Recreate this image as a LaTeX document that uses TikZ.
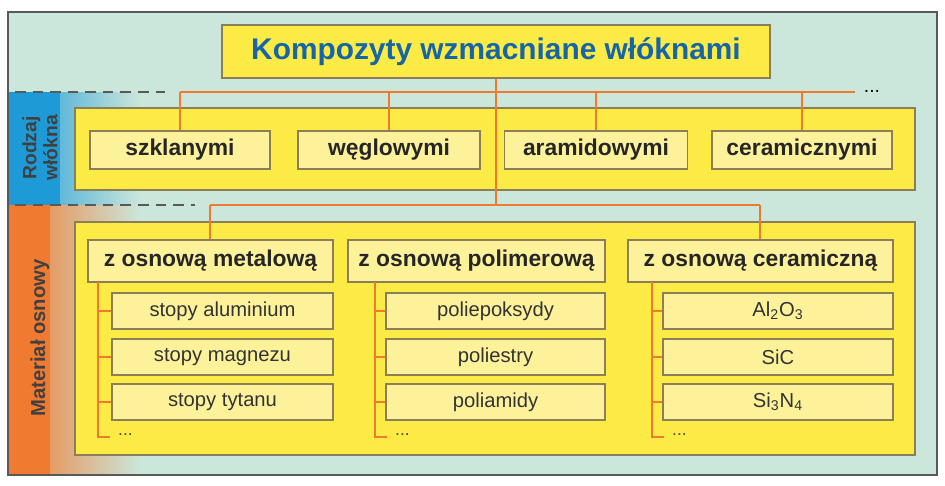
\documentclass[tikz,border=0pt]{standalone}
\usepackage{fontspec}
\setmainfont{Liberation Sans}
\usetikzlibrary{positioning}
\definecolor{mint}{HTML}{CBE6DA}
\definecolor{ybig}{HTML}{FCEB45}
\definecolor{ybox}{HTML}{FDF29A}
\definecolor{bord}{HTML}{8A7F5A}
\definecolor{lineor}{HTML}{F07A30}
\definecolor{titleblue}{HTML}{1565A8}
\definecolor{sblue}{HTML}{1E9BD7}
\definecolor{sorange}{HTML}{F07A30}
\tikzset{
  panel/.style={draw=bord, fill=ybig, line width=0.6pt},
  hbox/.style={draw=bord, fill=ybox, line width=0.6pt, font=\bfseries\fontsize{13}{15}\selectfont, text=black!85},
  sbox/.style={draw=bord, fill=ybox, line width=0.6pt, font=\fontsize{11.5}{14}\selectfont, text=black!80},
  conn/.style={draw=lineor, line width=1.2pt},
  dsh/.style={draw=gray!70!black, line width=0.7pt, dash pattern=on 6pt off 4pt},
}
\begin{document}
\begin{tikzpicture}[x=0.02cm,y=-0.02cm]
\useasboundingbox (0,0) rectangle (945,485);
% background
\fill[mint] (8,12) rectangle (937,475);
\shade[left color=sblue, right color=mint] (8,92) rectangle (140,205);
\fill[sblue] (8,92) rectangle (60,205);
\shade[left color=sorange, right color=mint] (8,205) rectangle (140,475);
\fill[sorange] (8,205) rectangle (50,475);
\draw[gray!70!black, line width=0.8pt] (8,12) rectangle (937,475);
\coordinate (d1a) at (15,92); \coordinate (d1b) at (165,92);
\coordinate (d2a) at (15,205); \coordinate (d2b) at (195,205);
\draw[dsh] (d1a) -- (d1b);
\draw[dsh] (d2a) -- (d2b);
\node[rotate=90, font=\bfseries\fontsize{11}{12}\selectfont, text=black!75, align=center] (lab1) at (40,148) {Rodzaj\\włókna};
\node[rotate=90, font=\bfseries\fontsize{11.5}{13}\selectfont, text=black!75] (lab2) at (40,338) {Materiał osnowy};
% panels
\draw[panel] (75,108) rectangle (915,190);
\draw[panel] (75,222) rectangle (915,455);
% title
\node[draw=bord, fill=ybig, line width=0.7pt, minimum width=548*0.02cm, minimum height=53*0.02cm, font=\bfseries\fontsize{17}{20}\selectfont, text=titleblue] (title) at (496,51.5) {Kompozyty wzmacniane włóknami};
% fibre boxes
\foreach \n/\x/\w/\t in {f1/180/180/szklanymi, f2/389/182/węglowymi, f3/596/183/aramidowymi, f4/802/180/ceramicznymi}{
  \node[hbox, minimum width=\w*0.02cm, minimum height=38*0.02cm] (\n) at (\x,150) {\t};
}
\coordinate (top1) at (180,92);
\coordinate (topend) at (855,92);
\node[font=\fontsize{11}{12}\selectfont] (dots0) at (872,91) {...};
\draw[conn] (top1) -- (topend);
\draw[conn] (title.south) -- (title.south |- 0,205);
\foreach \n in {f1,f2,f3,f4}{ \draw[conn] (\n.north) -- (\n.north |- top1); }
% matrix headers
\node[hbox, minimum width=245*0.02cm, minimum height=42*0.02cm] (m1) at (210.5,261) {z osnową metalową};
\node[hbox, minimum width=257*0.02cm, minimum height=42*0.02cm] (m2) at (476.5,261) {z osnową polimerową};
\node[hbox, minimum width=265*0.02cm, minimum height=42*0.02cm] (m3) at (760.5,261) {z osnową ceramiczną};
\coordinate (h1) at (210,205); \coordinate (h3) at (760,205);
\draw[conn] (h1) -- (h3);
\draw[conn] (h1) -- (m1.north -| h1);
\draw[conn] (h3) -- (m3.north -| h3);
% sub boxes
\foreach \k/\xl/\xr/\sp/\a/\b/\c in {1/112/333/98/stopy aluminium/stopy magnezu/stopy tytanu,
  2/386/605/375/poliepoksydy/poliestry/poliamidy,
  3/663/893/652/Al\textsubscript{2}O\textsubscript{3}/SiC/Si\textsubscript{3}N\textsubscript{4}}{
  \node[sbox, minimum width={(\xr-\xl)*0.02cm}, minimum height=36*0.02cm] (s\k a) at ({(\xl+\xr)/2},311) {\a};
  \node[sbox, minimum width={(\xr-\xl)*0.02cm}, minimum height=36*0.02cm] (s\k b) at ({(\xl+\xr)/2},357) {\b};
  \node[sbox, minimum width={(\xr-\xl)*0.02cm}, minimum height=36*0.02cm] (s\k c) at ({(\xl+\xr)/2},402) {\c};
  \coordinate (sp\k t) at (\sp,282);
  \coordinate (sp\k e) at (\sp,437);
  \coordinate (sp\k d) at (\sp+12,437);
  \node[font=\fontsize{10}{12}\selectfont, anchor=west, text=black!70] (dd\k) at (\sp+14,435) {...};
  \draw[conn] (sp\k t) -- (sp\k e) -- (sp\k d);
  \draw[conn] (s\k a.west -| sp\k t) -- (s\k a.west);
  \draw[conn] (s\k b.west -| sp\k t) -- (s\k b.west);
  \draw[conn] (s\k c.west -| sp\k t) -- (s\k c.west);
}
\end{tikzpicture}
\end{document}
